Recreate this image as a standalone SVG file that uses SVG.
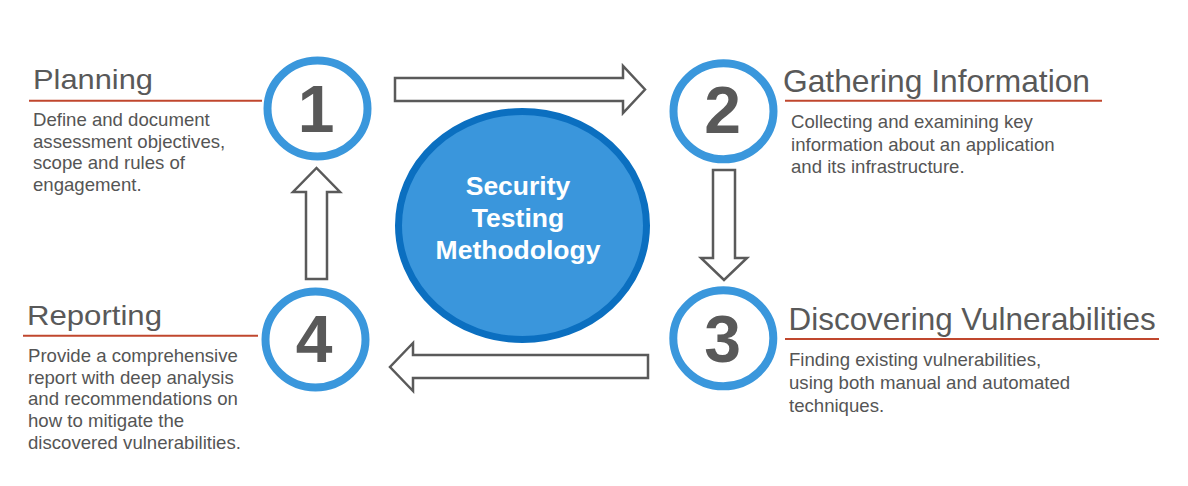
<svg xmlns="http://www.w3.org/2000/svg" width="1188" height="486" viewBox="0 0 1188 486">
<style>
.title{font-family:"Liberation Sans",Arial,sans-serif;fill:#595959;}
.body{font-family:"Liberation Sans",Arial,sans-serif;font-size:18.6px;fill:#555555;}
.num{font-family:"Liberation Sans",Arial,sans-serif;font-size:66px;font-weight:bold;fill:#595959;text-anchor:middle;}
.ring{fill:#ffffff;stroke:#3a97dc;stroke-width:8;}
.rule{stroke:#c0472e;stroke-width:2;}
.arrow{fill:#ffffff;stroke:#5a5a5a;stroke-width:2.5;stroke-linejoin:miter;}
.center{font-family:"Liberation Sans",Arial,sans-serif;font-size:26.5px;font-weight:bold;fill:#ffffff;text-anchor:middle;}
</style>
<rect width="1188" height="486" fill="#ffffff"/>
<g id="connectors">
<path class="arrow" d="M395,78 H623 V66 L645,89.5 L623,113 V101 H395 Z"/>
<path class="arrow" d="M713,170 V258 H701 L724,280 L747,258 H735 V170 Z"/>
<path class="arrow" d="M648,355 H413 V343 L390,367 L413,391 V378 H648 Z"/>
<path class="arrow" d="M306,279 V192 H293 L316.5,168 L340,192 H327 V279 Z"/>
</g>
<g id="center">
<ellipse cx="522.5" cy="225.5" rx="124" ry="114" fill="#3a96dc" stroke="#0b6fc0" stroke-width="7"/>
<text class="center" x="518" y="195">Security</text>
<text class="center" x="518" y="227">Testing</text>
<text class="center" x="518" y="258.5">Methodology</text>
</g>
<g id="step1">
<ellipse class="ring" cx="317.5" cy="108.5" rx="50" ry="48"/>
<text class="num" x="316" y="132">1</text>
<text class="title" x="33" y="89" font-size="28" textLength="120" lengthAdjust="spacingAndGlyphs">Planning</text>
<line class="rule" x1="29" y1="100.7" x2="262" y2="100.7"/>
<text class="body" x="33" y="126">Define and document</text>
<text class="body" x="33" y="147.7">assessment objectives,</text>
<text class="body" x="33" y="169.3">scope and rules of</text>
<text class="body" x="33" y="191">engagement.</text>
</g>
<g id="step2">
<ellipse class="ring" cx="723.5" cy="111.3" rx="50" ry="48"/>
<text class="num" x="722.5" y="133.3">2</text>
<text class="title" x="783" y="92" font-size="32" textLength="307" lengthAdjust="spacingAndGlyphs">Gathering Information</text>
<line class="rule" x1="785" y1="100.7" x2="1102" y2="100.7"/>
<text class="body" x="791" y="128.3">Collecting and examining key</text>
<text class="body" x="791" y="150.5">information about an application</text>
<text class="body" x="791" y="172.5">and its infrastructure.</text>
</g>
<g id="step3">
<ellipse class="ring" cx="723.3" cy="338.3" rx="50" ry="48"/>
<text class="num" x="722.5" y="361.7">3</text>
<text class="title" x="788.6" y="329.5" font-size="32" textLength="367" lengthAdjust="spacingAndGlyphs">Discovering Vulnerabilities</text>
<line class="rule" x1="785" y1="339" x2="1159" y2="339"/>
<text class="body" x="789" y="366">Finding existing vulnerabilities,</text>
<text class="body" x="789" y="389">using both manual and automated</text>
<text class="body" x="789" y="412">techniques.</text>
</g>
<g id="step4">
<ellipse class="ring" cx="315.5" cy="339.5" rx="50" ry="48"/>
<text class="num" x="314" y="361.7">4</text>
<text class="title" x="27" y="325" font-size="28" textLength="135" lengthAdjust="spacingAndGlyphs">Reporting</text>
<line class="rule" x1="23" y1="335.7" x2="258" y2="335.7"/>
<text class="body" x="28" y="362">Provide a comprehensive</text>
<text class="body" x="28" y="383.5">report with deep analysis</text>
<text class="body" x="28" y="405">and recommendations on</text>
<text class="body" x="28" y="427">how to mitigate the</text>
<text class="body" x="28" y="448.5">discovered vulnerabilities.</text>
</g>
</svg>
